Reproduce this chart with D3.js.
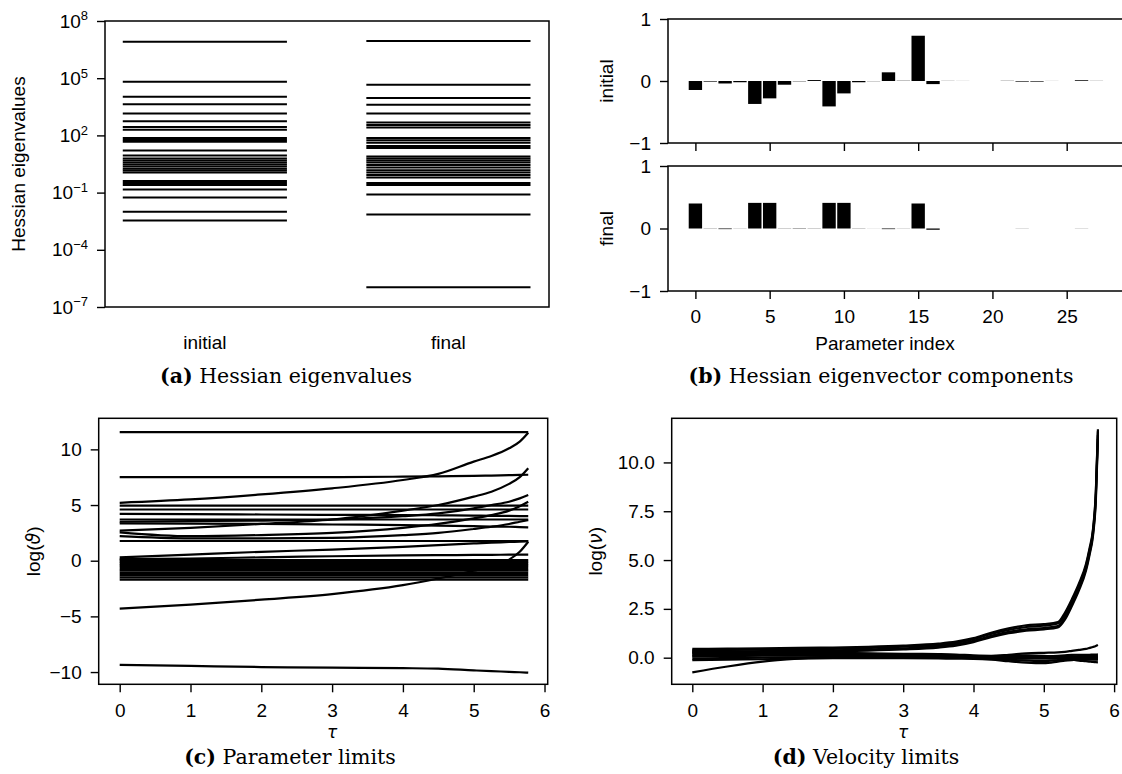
<!DOCTYPE html>
<html>
<head>
<meta charset="utf-8">
<script src="https://cdn.jsdelivr.net/npm/d3@7"></script>
<style>
  body { margin: 0; background: #fff; }
  .tick text { font-family: "Liberation Sans", Arial, sans-serif; font-size: 19px; fill: #000; }
  .lbl { font-family: "Liberation Sans", Arial, sans-serif; font-size: 19px; fill: #000; }
  .cap { font-family: "DejaVu Serif", serif; font-size: 20.5px; fill: #000; }
</style>
</head>
<body>
<div class="chart"></div>
<script>
// ---- data: (a) Hessian eigenvalues
const eigCategories = ['initial', 'final'];
const initialEigenvalues = [8.1e6, 6.5e4, 1.05e4, 4.3e3, 1.4e3, 550, 275, 200, 74, 58, 46, 16, 8.9, 6.2,
  4.8, 3.8, 2.95, 2.35, 1.8, 1.45, 1.12, 0.41, 0.32, 0.25, 0.145, 0.056, 0.01, 0.0034];
const finalEigenvalues = [8.9e6, 4.5e4, 9.1e3, 4.1e3, 1.4e3, 480, 355, 263, 74, 55, 41, 28, 22, 7.8,
  6.2, 4.8, 3.8, 2.8, 2.1, 1.5, 1.12, 0.83, 0.62, 0.32, 0.25, 0.079, 0.0072, 1.1e-6];
const eigTicks = [1e-7, 1e-4, 1e-1, 1e2, 1e5, 1e8];

// ---- data: (b) eigenvector components, index 0..27
const initialComponents = [-0.145, -0.01, -0.04, -0.02, -0.37, -0.28, -0.06, -0.005, 0.015, -0.41, -0.2, -0.02,
  -0.003, 0.14, 0.004, 0.73, -0.05, 0.002, 0.001, 0, 0, 0.003, -0.01, -0.01, 0.001, 0, 0.012, 0.002];
const finalComponents = [0.40, 0.003, -0.01, 0.002, 0.41, 0.41, 0.003, -0.005, 0.003, 0.41, 0.41, 0.003,
  0.001, -0.01, 0.002, 0.40, -0.02, 0, 0, 0, 0, 0, 0.002, 0, 0, 0, 0.002, 0];
const indexTicks = [0, 5, 10, 15, 20, 25];

// ---- data: (c) parameter limits
const tauParam = [0, 1, 2, 3, 4, 4.5, 5, 5.25, 5.5, 5.65, 5.77];
const paramCurves = [
  [5.2, 5.5, 5.95, 6.5, 7.25, 7.8, 8.9, 9.4, 10.1, 10.7, 11.5],
  [7.5, 7.5, 7.5, 7.5, 7.55, 7.58, 7.62, 7.65, 7.68, 7.7, 7.72],
  [2.7, 2.95, 3.3, 3.7, 4.5, 5.0, 5.75, 6.2, 6.9, 7.5, 8.3],
  [3.5, 3.55, 3.6, 3.7, 4.0, 4.25, 4.7, 5.0, 5.3, 5.6, 5.9],
  [2.55, 2.2, 2.3, 2.5, 2.95, 3.3, 3.8, 4.1, 4.5, 4.9, 5.3],
  [2.2, 2.0, 2.0, 2.05, 2.3, 2.5, 2.85, 3.05, 3.3, 3.5, 3.65],
  [0.3, 0.55, 0.8, 1.0, 1.25, 1.4, 1.55, 1.62, 1.68, 1.72, 1.75],
  [-4.3, -3.95, -3.5, -3.0, -2.2, -1.6, -0.9, -0.5, 0.1, 0.8, 1.7],
  [-9.35, -9.45, -9.55, -9.6, -9.65, -9.7, -9.85, -9.92, -9.98, -10.02, -10.05],
  [0.15, 0.2, 0.3, 0.4, 0.48, 0.5, 0.52, 0.53, 0.54, 0.55, 0.55],
  [4.2, 4.18, 4.15, 4.12, 4.1, 4.08, 4.05, 4.03, 4.02, 4.01, 4.0],
  [3.35, 3.33, 3.3, 3.25, 3.2, 3.15, 3.1, 3.07, 3.05, 3.02, 3.0]
];
const paramFlat = [11.55, 4.95, 4.6, 3.7, 1.77, 0.05, -0.1, -0.25, -0.4, -0.55, -0.75, -0.9, -1.1, -1.3, -1.5, -1.7];
const paramYTicks = [-10, -5, 0, 5, 10];
const tauTicks = [0, 1, 2, 3, 4, 5, 6];

// ---- data: (d) velocity limits
const tauVel = [0, 0.5, 1, 1.5, 2, 2.5, 3, 3.5, 3.75, 4, 4.25, 4.5, 4.75, 5, 5.2, 5.3, 5.4, 5.5, 5.6, 5.65, 5.7, 5.74, 5.77];
const velRising = [
  [0.45, 0.46, 0.48, 0.5, 0.52, 0.56, 0.62, 0.72, 0.82, 1.0, 1.28, 1.5, 1.66, 1.72, 1.82, 2.3, 3.0, 3.8, 4.8, 5.6, 6.6, 8.5, 11.7],
  [0.38, 0.4, 0.42, 0.43, 0.45, 0.5, 0.56, 0.66, 0.76, 0.95, 1.22, 1.42, 1.57, 1.64, 1.75, 2.2, 2.9, 3.7, 4.7, 5.5, 6.5, 8.4, 11.6],
  [0.3, 0.32, 0.34, 0.36, 0.38, 0.42, 0.48, 0.58, 0.68, 0.86, 1.12, 1.32, 1.45, 1.52, 1.62, 2.05, 2.75, 3.55, 4.55, 5.35, 6.35, 8.2, 11.4],
  [0.22, 0.25, 0.28, 0.3, 0.32, 0.36, 0.42, 0.52, 0.62, 0.8, 1.05, 1.25, 1.38, 1.45, 1.55, 1.95, 2.65, 3.45, 4.45, 5.25, 6.25, 8.0, 11.2]
];
const velFlat = [
  [0.25, 0.27, 0.3, 0.28, 0.25, 0.22, 0.2, 0.18, 0.16, 0.12, 0.1, 0.15, 0.22, 0.25, 0.27, 0.3, 0.35, 0.4, 0.45, 0.5, 0.55, 0.6, 0.65],
  [0.15, 0.18, 0.2, 0.2, 0.18, 0.15, 0.12, 0.1, 0.08, 0.06, 0.05, 0.04, 0.05, 0.06, 0.1, 0.12, 0.14, 0.15, 0.15, 0.15, 0.16, 0.16, 0.17],
  [0.05, 0.08, 0.1, 0.1, 0.1, 0.08, 0.06, 0.05, 0.04, 0.03, 0.02, 0.0, -0.02, 0.0, 0.05, 0.06, 0.07, 0.08, 0.08, 0.08, 0.08, 0.08, 0.08],
  [-0.05, -0.02, 0.0, 0.02, 0.03, 0.03, 0.02, 0.01, 0.0, -0.02, -0.05, -0.1, -0.15, -0.18, -0.12, -0.08, -0.05, -0.03, -0.02, -0.02, -0.01, -0.01, 0.0],
  [-0.12, -0.1, -0.08, -0.05, -0.03, -0.02, -0.03, -0.04, -0.05, -0.06, -0.1, -0.18, -0.25, -0.28, -0.2, -0.15, -0.12, -0.1, -0.1, -0.1, -0.1, -0.1, -0.1],
  [0.35, 0.33, 0.3, 0.28, 0.25, 0.2, 0.15, 0.12, 0.1, 0.08, 0.06, 0.05, 0.05, 0.05, 0.0, -0.05, -0.1, -0.15, -0.18, -0.2, -0.22, -0.23, -0.24],
  [-0.75, -0.45, -0.2, -0.05, 0.05, 0.08, 0.08, 0.06, 0.05, 0.03, 0.0, -0.03, -0.05, -0.05, -0.05, -0.06, -0.07, -0.08, -0.08, -0.08, -0.08, -0.08, -0.08],
  [0.1, 0.12, 0.14, 0.15, 0.15, 0.12, 0.1, 0.08, 0.07, 0.06, 0.08, 0.1, 0.12, 0.1, 0.05, 0.03, 0.02, 0.02, 0.02, 0.02, 0.02, 0.02, 0.02]
];
const velYTicks = [0, 2.5, 5, 7.5, 10];

// ---- figure
const width = 1122, height = 774;
const svg = d3.select('.chart').append('svg')
  .attr('width', width)
  .attr('height', height)
  .style('display', 'block');
svg.append('rect').attr('width', width).attr('height', height).attr('fill', '#fff');

const TICK = 8;

function frame(x, y) {
  const [x0, x1] = x.range(), [y0, y1] = y.range();
  svg.append('rect')
    .attr('x', Math.min(x0, x1)).attr('y', Math.min(y0, y1))
    .attr('width', Math.abs(x1 - x0)).attr('height', Math.abs(y1 - y0))
    .attr('fill', 'none').attr('stroke', '#000').attr('stroke-width', 1.5);
}

function styleAxis(g) {
  g.select('.domain').remove();
  g.selectAll('.tick line').attr('stroke', '#000').attr('stroke-width', 1.4);
  g.attr('font-family', null).attr('font-size', null);
}

function leftAxis(y, xPos, ticks, fmt) {
  svg.append('g').attr('transform', `translate(${xPos},0)`)
    .call(d3.axisLeft(y).tickValues(ticks).tickFormat(fmt).tickSize(TICK).tickPadding(9))
    .call(styleAxis);
}

function bottomAxis(x, yPos, ticks, fmt) {
  return svg.append('g').attr('transform', `translate(0,${yPos})`)
    .call(d3.axisBottom(x).tickValues(ticks).tickFormat(fmt).tickSize(TICK).tickPadding(11))
    .call(styleAxis);
}

function caption(cx, cy, tag, text) {
  const t = svg.append('text').attr('class', 'cap').attr('x', cx).attr('y', cy).attr('text-anchor', 'middle');
  t.append('tspan').attr('font-weight', 'bold').text(tag);
  t.append('tspan').text(' ' + text);
}

// ---- (a) eigenvalues
const xA = d3.scaleLinear().domain([-0.41, 1.413]).range([105, 549]);
const yA = d3.scaleLog().domain([1e-7, 1e8]).range([307, 21]);
const halfW = 0.337;
[initialEigenvalues, finalEigenvalues].forEach((vals, i) => {
  svg.append('g').selectAll('line').data(vals).join('line')
    .attr('x1', xA(i - halfW)).attr('x2', xA(i + halfW))
    .attr('y1', d => yA(d)).attr('y2', d => yA(d))
    .attr('stroke', '#000').attr('stroke-width', 2);
});
frame(xA, yA);
const gA = svg.append('g').attr('transform', `translate(${xA.range()[0]},0)`)
  .call(d3.axisLeft(yA).tickValues(eigTicks).tickSize(TICK).tickPadding(9).tickFormat(() => ''))
  .call(styleAxis);
gA.selectAll('.tick text').each(function(d) {
  const t = d3.select(this);
  const e = Math.round(Math.log10(d));
  t.text('10');
  t.append('tspan').attr('dy', '-0.55em').style('font-size', '13px')
    .text(e < 0 ? '\u2212' + (-e) : String(e));
});
svg.append('g').selectAll('text').data(eigCategories).join('text')
  .attr('class', 'lbl').attr('x', (d, i) => xA(i)).attr('y', 349)
  .attr('text-anchor', 'middle').text(d => d);
svg.append('text').attr('class', 'lbl')
  .attr('transform', `translate(25,${(yA.range()[0] + yA.range()[1]) / 2}) rotate(-90)`)
  .attr('text-anchor', 'middle').text('Hessian eigenvalues');
caption(286, 383, '(a)', 'Hessian eigenvalues');

// ---- (b) eigenvector components
const xB = d3.scaleLinear().domain([-1.845, 28.845]).range([668, 1123.8]);
const yBTop = d3.scaleLinear().domain([-1, 1]).range([143, 19]);
const yBBot = d3.scaleLinear().domain([-1, 1]).range([291, 166]);
const barW = 0.9;
const fmtInt = d3.format('d');

function bars(vals, y) {
  svg.append('g').selectAll('rect').data(vals).join('rect')
    .attr('x', (d, i) => xB(i - barW / 2))
    .attr('width', xB(barW) - xB(0))
    .attr('y', d => y(Math.max(0, d)))
    .attr('height', d => Math.abs(y(d) - y(0)))
    .attr('fill', '#000');
}
bars(initialComponents, yBTop);
bars(finalComponents, yBBot);
frame(xB, yBTop);
frame(xB, yBBot);
leftAxis(yBTop, 668, [-1, 0, 1], fmtInt);
leftAxis(yBBot, 668, [-1, 0, 1], fmtInt);
bottomAxis(xB, 143, indexTicks, () => '');
bottomAxis(xB, 291, indexTicks, fmtInt);
svg.append('text').attr('class', 'lbl')
  .attr('transform', `translate(613,81) rotate(-90)`).attr('text-anchor', 'middle').text('initial');
svg.append('text').attr('class', 'lbl')
  .attr('transform', `translate(613,228.5) rotate(-90)`).attr('text-anchor', 'middle').text('final');
svg.append('text').attr('class', 'lbl').attr('x', 885).attr('y', 350)
  .attr('text-anchor', 'middle').text('Parameter index');
caption(881, 383, '(b)', 'Hessian eigenvector components');

// ---- (c) parameter limits
const xC = d3.scaleLinear().domain([-0.2966, 6.045]).range([98.7, 547.7]);
const yC = d3.scaleLinear().domain([-11.1, 12.79]).range([684.3, 418.3]);
const lineC = d3.line().x((d, i) => xC(tauParam[i])).y(d => yC(d)).curve(d3.curveMonotoneX);
svg.append('g').selectAll('line').data(paramFlat).join('line')
  .attr('x1', xC(tauParam[0])).attr('x2', xC(tauParam[tauParam.length - 1]))
  .attr('y1', d => yC(d)).attr('y2', d => yC(d))
  .attr('stroke', '#000').attr('stroke-width', 2.2);
svg.append('g').selectAll('path').data(paramCurves).join('path')
  .attr('d', lineC).attr('fill', 'none').attr('stroke', '#000').attr('stroke-width', 2.2);
frame(xC, yC);
leftAxis(yC, 98.7, paramYTicks, fmtInt);
bottomAxis(xC, 684.3, tauTicks, fmtInt);

function mathLabel(x, y, pre, sym, post) {
  const t = svg.append('text').attr('class', 'lbl')
    .attr('transform', `translate(${x},${y}) rotate(-90)`).attr('text-anchor', 'middle');
  t.append('tspan').text(pre);
  t.append('tspan').style('font-style', 'italic').style('font-family', '"DejaVu Sans", sans-serif').text(sym);
  t.append('tspan').text(post);
}
mathLabel(40, 551.3, 'log(', '\u03D1', ')');
svg.append('text').attr('class', 'lbl').attr('x', xC(3)).attr('y', 738)
  .attr('text-anchor', 'middle').style('font-family', '"DejaVu Sans", sans-serif').style('font-style', 'italic')
  .style('font-size', '17px').text('\u03C4');
caption(290, 764, '(c)', 'Parameter limits');

// ---- (d) velocity limits
const xD = d3.scaleLinear().domain([-0.293, 6.037]).range([671.7, 1116.7]);
const yD = d3.scaleLinear().domain([-1.363, 12.26]).range([684.3, 418.3]);
const lineD = d3.line().x((d, i) => xD(tauVel[i])).y(d => yD(d)).curve(d3.curveMonotoneX);
svg.append('g').selectAll('path').data(velFlat.concat(velRising)).join('path')
  .attr('d', lineD).attr('fill', 'none').attr('stroke', '#000').attr('stroke-width', 2.2);
frame(xD, yD);
leftAxis(yD, 671.7, velYTicks, d3.format('.1f'));
bottomAxis(xD, 684.3, tauTicks, fmtInt);
mathLabel(602, 551.3, 'log(', '\u03BD', ')');
svg.append('text').attr('class', 'lbl').attr('x', xD(3)).attr('y', 738)
  .attr('text-anchor', 'middle').style('font-family', '"DejaVu Sans", sans-serif').style('font-style', 'italic')
  .style('font-size', '17px').text('\u03C4');
caption(866, 764, '(d)', 'Velocity limits');
</script>
</body>
</html>
